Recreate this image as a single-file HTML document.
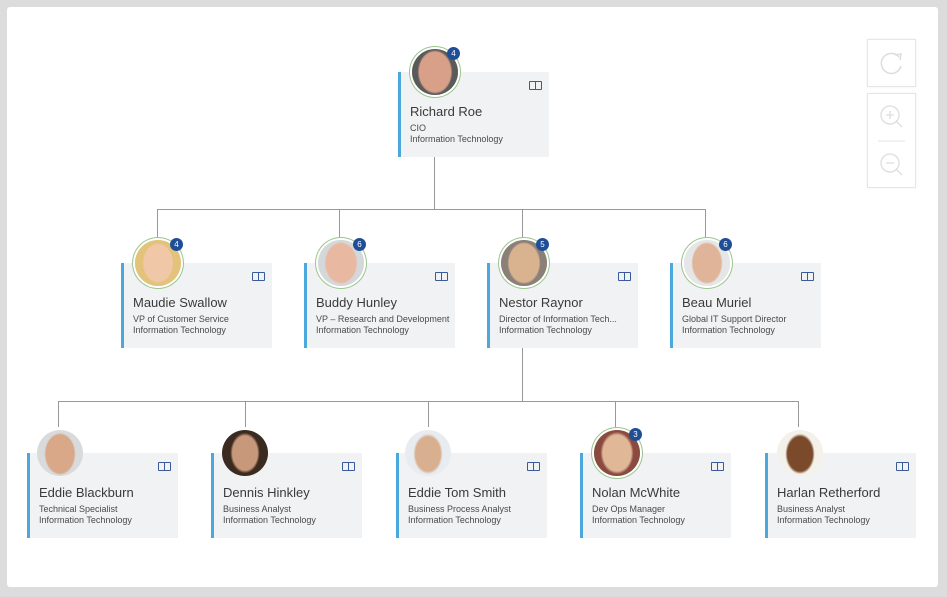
<!DOCTYPE html>
<html><head><meta charset="utf-8"><style>
body{margin:0;width:947px;height:597px;background:#dcdcdc;position:relative;overflow:hidden;font-family:"Liberation Sans",sans-serif}
.frame{position:absolute;left:7px;top:7px;width:931px;height:580px;background:#fff;border-radius:3px}
.c{position:absolute;width:148px;height:85px;background:#f1f2f4;border-left:3px solid #4aa8dc}
.n{position:absolute;left:9px;top:32px;font-size:13px;color:#3a3a3a;white-space:nowrap}
.s{position:absolute;left:9px;font-size:9px;color:#4a4a4a;white-space:nowrap}
.s1{top:51px}.s2{top:62px}
.ic{position:absolute;right:7px;top:9px;width:11px;height:7px;border:1.5px solid #3a5a9a;border-radius:1px;font-size:0}
.ic:after{content:"";position:absolute;left:5px;top:0;width:1px;height:7px;background:#3a5a9a}
.av{position:absolute;width:46px;height:46px;border-radius:50%;background:radial-gradient(ellipse 45% 55% at 50% 48%,#d8a888 0 70%,#5a4030 72% 100%);}
.ring{box-shadow:0 0 0 2px #fff,0 0 0 3px #9cc48c}
.b{position:absolute;width:13px;height:13px;border-radius:50%;background:#1f4e96;color:#fff;font-size:8px;line-height:13px;text-align:center}
.l{position:absolute;background:#999}
.ctl{position:absolute;left:867px;width:47px;background:#fff;border:1px solid #e6e6e6;box-shadow:0 0 2px #eee}
</style></head><body>
<div class="frame"></div>

<div class="l" style="left:434px;top:157px;width:1px;height:53px"></div>
<div class="l" style="left:157px;top:209px;width:549px;height:1px"></div>
<div class="l" style="left:157px;top:209px;width:1px;height:28px"></div>
<div class="l" style="left:339px;top:209px;width:1px;height:28px"></div>
<div class="l" style="left:522px;top:209px;width:1px;height:28px"></div>
<div class="l" style="left:705px;top:209px;width:1px;height:28px"></div>
<div class="l" style="left:522px;top:348px;width:1px;height:54px"></div>
<div class="l" style="left:58px;top:401px;width:741px;height:1px"></div>
<div class="l" style="left:58px;top:401px;width:1px;height:26px"></div>
<div class="l" style="left:245px;top:401px;width:1px;height:26px"></div>
<div class="l" style="left:428px;top:401px;width:1px;height:26px"></div>
<div class="l" style="left:615px;top:401px;width:1px;height:26px"></div>
<div class="l" style="left:798px;top:401px;width:1px;height:26px"></div>

<div class="c" style="left:398px;top:72px"><div class="ic"></div><div class="n">Richard Roe</div><div class="s s1">CIO</div><div class="s s2">Information Technology</div></div>
<div class="av ring" style="left:412px;top:49px;background:radial-gradient(ellipse 38% 48% at 50% 50%,#d8a088 0 90%,#5a5a5a 100%)"></div><div class="b" style="left:447px;top:47px">4</div>

<div class="c" style="left:121px;top:263px"><div class="ic"></div><div class="n">Maudie Swallow</div><div class="s s1">VP of Customer Service</div><div class="s s2">Information Technology</div></div>
<div class="av ring" style="left:135px;top:240px;background:radial-gradient(ellipse 34% 44% at 50% 50%,#f0c8a8 0 90%,#e3c27a 100%)"></div><div class="b" style="left:170px;top:238px">4</div>
<div class="c" style="left:304px;top:263px"><div class="ic"></div><div class="n">Buddy Hunley</div><div class="s s1">VP – Research and Development</div><div class="s s2">Information Technology</div></div>
<div class="av ring" style="left:318px;top:240px;background:radial-gradient(ellipse 36% 46% at 50% 50%,#e8b8a0 0 90%,#d4d8da 100%)"></div><div class="b" style="left:353px;top:238px">6</div>
<div class="c" style="left:487px;top:263px"><div class="ic"></div><div class="n">Nestor Raynor</div><div class="s s1">Director of Information Tech...</div><div class="s s2">Information Technology</div></div>
<div class="av ring" style="left:501px;top:240px;background:radial-gradient(ellipse 36% 46% at 50% 50%,#d9b290 0 90%,#8a8078 100%)"></div><div class="b" style="left:536px;top:238px">5</div>
<div class="c" style="left:670px;top:263px"><div class="ic"></div><div class="n">Beau Muriel</div><div class="s s1">Global IT Support Director</div><div class="s s2">Information Technology</div></div>
<div class="av ring" style="left:684px;top:240px;background:radial-gradient(ellipse 34% 46% at 50% 50%,#e0b498 0 90%,#e4e6e8 100%)"></div><div class="b" style="left:719px;top:238px">6</div>

<div class="c" style="left:27px;top:453px"><div class="ic"></div><div class="n">Eddie Blackburn</div><div class="s s1">Technical Specialist</div><div class="s s2">Information Technology</div></div>
<div class="av" style="left:37px;top:430px;background:radial-gradient(ellipse 34% 46% at 50% 52%,#d8a888 0 90%,#d8dadc 100%)"></div>
<div class="c" style="left:211px;top:453px"><div class="ic"></div><div class="n">Dennis Hinkley</div><div class="s s1">Business Analyst</div><div class="s s2">Information Technology</div></div>
<div class="av" style="left:222px;top:430px;background:radial-gradient(ellipse 32% 44% at 50% 50%,#c8987a 0 85%,#3a2a20 100%)"></div>
<div class="c" style="left:396px;top:453px"><div class="ic"></div><div class="n">Eddie Tom Smith</div><div class="s s1">Business Process Analyst</div><div class="s s2">Information Technology</div></div>
<div class="av" style="left:405px;top:430px;background:radial-gradient(ellipse 32% 44% at 50% 52%,#d8b090 0 85%,#e8ecf0 100%)"></div>
<div class="c" style="left:580px;top:453px"><div class="ic"></div><div class="n">Nolan McWhite</div><div class="s s1">Dev Ops Manager</div><div class="s s2">Information Technology</div></div>
<div class="av ring" style="left:594px;top:430px;background:radial-gradient(ellipse 36% 46% at 50% 50%,#e0b898 0 85%,#8a4a40 100%)"></div><div class="b" style="left:629px;top:428px">3</div>
<div class="c" style="left:765px;top:453px"><div class="ic"></div><div class="n">Harlan Retherford</div><div class="s s1">Business Analyst</div><div class="s s2">Information Technology</div></div>
<div class="av" style="left:777px;top:430px;background:radial-gradient(ellipse 32% 44% at 50% 52%,#7a4a2a 0 85%,#f4f0ea 100%)"></div>

<div class="ctl" style="top:39px;height:46px">
<svg width="47" height="46"><path d="M31 17 A10 10 0 1 0 33 26" fill="none" stroke="#ddd" stroke-width="1.5"/><path d="M27 15 L33 14 L32 20" fill="none" stroke="#ddd" stroke-width="1.5"/></svg></div>
<div class="ctl" style="top:93px;height:93px">
<svg width="47" height="93"><circle cx="22" cy="21" r="9" fill="none" stroke="#ddd" stroke-width="1.3"/><path d="M18 21h8M22 17v8M28 27l6 6" stroke="#ddd" stroke-width="1.3"/><line x1="10" y1="47" x2="37" y2="47" stroke="#e6e6e6"/><circle cx="22" cy="69" r="9" fill="none" stroke="#ddd" stroke-width="1.3"/><path d="M18 69h8M28 75l6 6" stroke="#ddd" stroke-width="1.3"/></svg></div>
</body></html>
